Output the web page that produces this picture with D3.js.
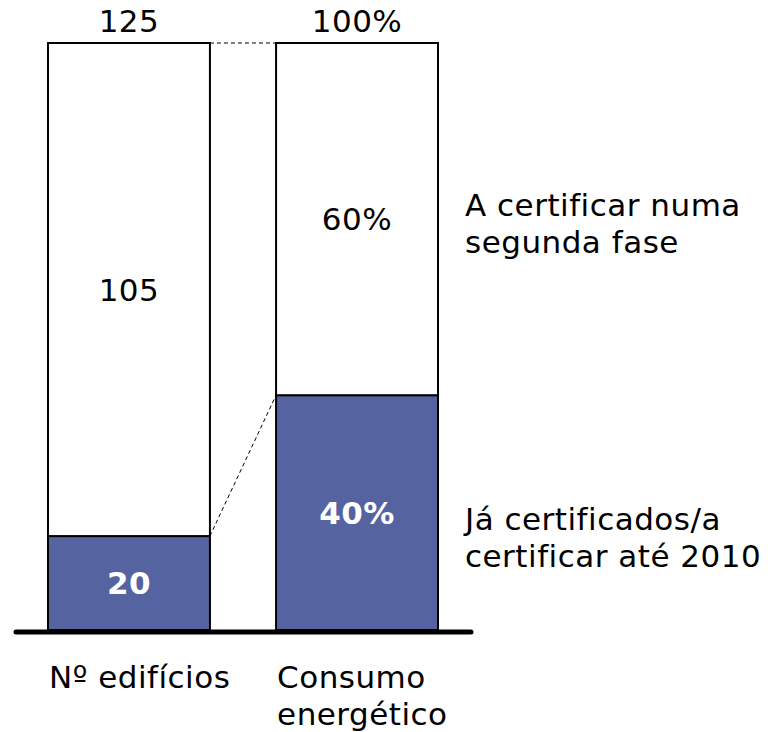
<!DOCTYPE html>
<html>
<head>
<meta charset="utf-8">
<script src="https://cdn.jsdelivr.net/npm/d3@7"></script>
<style>
  body { margin: 0; background: #fff; }
  text { font-family: "DejaVu Sans", Verdana, sans-serif; letter-spacing: 0.5px; }
</style>
</head>
<body>
<script>
// data
const categories = ["Nº edifícios", "Consumo energético"];
const totals = [125, 100];
const firstPhase = [20, 40];      // já certificados / a certificar até 2010
const secondPhase = [105, 60];    // a certificar numa segunda fase
const totalLabels = ["125", "100%"];
const firstLabels = ["20", "40%"];
const secondLabels = ["105", "60%"];
const seriesNames = [["A certificar numa", "segunda fase"], ["Já certificados/a", "certificar até 2010"]];
const catLines = [["Nº edifícios"], ["Consumo", "energético"]];

const width = 774, height = 732;
const barTop = 43, barBottom = 630;

const svg = d3.select("body").append("svg")
  .attr("width", width)
  .attr("height", height);

const x = d3.scaleBand()
  .domain(categories)
  .range([48, 438])
  .paddingInner(0.29)
  .paddingOuter(0);

// each bar is its own 100% stack
const y = categories.map((c, i) => d3.scaleLinear().domain([0, totals[i]]).range([barBottom, barTop]));

const fill = "#5563a0";

// stacked segments
const rows = categories.map((c, i) => ({
  c, i,
  x0: x(c), x1: x(c) + x.bandwidth(),
  split: y[i](firstPhase[i]),
  yTop: y[i](firstPhase[i] + secondPhase[i])
}));

const g = svg.append("g");

g.selectAll("rect.low")
  .data(rows)
  .join("rect")
  .attr("class", "low")
  .attr("x", d => d.x0)
  .attr("width", x.bandwidth())
  .attr("y", d => d.split)
  .attr("height", d => barBottom - d.split)
  .attr("fill", fill)
  .attr("stroke", "#000")
  .attr("stroke-width", 2);

g.selectAll("rect.high")
  .data(rows)
  .join("rect")
  .attr("class", "high")
  .attr("x", d => d.x0)
  .attr("width", x.bandwidth())
  .attr("y", d => d.yTop)
  .attr("height", d => d.split - d.yTop)
  .attr("fill", "#fff")
  .attr("stroke", "#000")
  .attr("stroke-width", 2);

// dashed connectors
const a = rows[0], b = rows[1];
[[a.x1, a.yTop, b.x0, b.yTop], [a.x1, a.split, b.x0, b.split]].forEach(l => {
  g.append("line")
    .attr("x1", l[0]).attr("y1", l[1])
    .attr("x2", l[2]).attr("y2", l[3])
    .attr("stroke", "#000")
    .attr("stroke-width", 1)
    .attr("stroke-dasharray", "4,3");
});

// baseline
svg.append("line")
  .attr("x1", 16).attr("x2", 471)
  .attr("y1", barBottom + 2).attr("y2", barBottom + 2)
  .attr("stroke", "#000")
  .attr("stroke-width", 5)
  .attr("stroke-linecap", "round");

const fs = 31;

// totals on top
g.selectAll("text.total")
  .data(rows)
  .join("text")
  .attr("class", "total")
  .attr("x", d => (d.x0 + d.x1) / 2)
  .attr("y", 32)
  .attr("text-anchor", "middle")
  .attr("font-size", fs)
  .text(d => totalLabels[d.i]);

// segment labels
g.selectAll("text.high")
  .data(rows)
  .join("text")
  .attr("class", "high")
  .attr("x", d => (d.x0 + d.x1) / 2)
  .attr("y", d => (d.yTop + d.split) / 2)
  .attr("dy", "0.36em")
  .attr("text-anchor", "middle")
  .attr("font-size", fs)
  .text(d => secondLabels[d.i]);

g.selectAll("text.low")
  .data(rows)
  .join("text")
  .attr("class", "low")
  .attr("x", d => (d.x0 + d.x1) / 2)
  .attr("y", d => (d.split + barBottom) / 2)
  .attr("dy", "0.36em")
  .attr("text-anchor", "middle")
  .attr("font-size", fs)
  .attr("font-weight", "bold")
  .attr("fill", "#fff")
  .text(d => firstLabels[d.i]);

// category labels
rows.forEach(d => {
  const t = svg.append("text")
    .attr("x", d.x0 + 1)
    .attr("y", 688)
    .attr("font-size", fs);
  catLines[d.i].forEach((s, k) => {
    t.append("tspan").attr("x", d.x0 + 1).attr("dy", k ? 37 : 0).text(s);
  });
});

// series labels on the right
const seriesY = [216, 530];
seriesNames.forEach((lines, k) => {
  const t = svg.append("text")
    .attr("x", 465)
    .attr("y", seriesY[k])
    .attr("font-size", fs);
  lines.forEach((s, j) => {
    t.append("tspan").attr("x", 465).attr("dy", j ? 37 : 0).text(s);
  });
});
</script>
</body>
</html>
